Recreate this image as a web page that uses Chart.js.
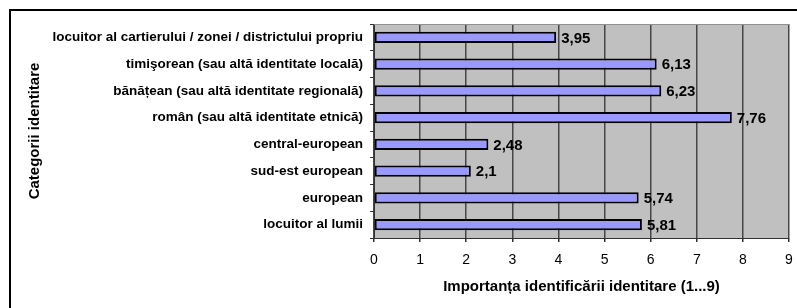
<!DOCTYPE html>
<html>
<head>
<meta charset="utf-8">
<title>Importanța identificării identitare</title>
<script src="https://cdn.jsdelivr.net/npm/chart.js@4"></script>
<style>
    html, body { margin: 0; padding: 0; background: #ffffff; }
    canvas { display: block; }
</style>
</head>
<body>
<canvas id="identityChart" width="797" height="308"></canvas>
<script>
// Data (START) --------------------------------------------------
// Categories, top to bottom as in the picture
let categories = [
    "locuitor al cartierului / zonei / districtului propriu",
    "timişorean (sau altă identitate locală)",
    "bănățean (sau altă identitate regională)",
    "român (sau altă identitate etnică)",
    "central-european",
    "sud-est european",
    "european",
    "locuitor al lumii"
];

// Mean importance (1...9)
let values = [3.95, 6.13, 6.23, 7.76, 2.48, 2.1, 5.74, 5.81];

// Axis titles
let xTitle = "Importanța identificării identitare (1...9)";
let yTitle = "Categorii identitare";

let fontName = "'Liberation Sans', Arial, sans-serif";

// Plugins (START) --------------------------------------------------
// Grey plot area, filled before the scales draw their grid
let plotBackground = {
    id: "plotBackground",
    beforeDraw(chart) {
        let ctx = chart.ctx;
        let a = chart.chartArea;
        ctx.save();
        ctx.fillStyle = "#c0c0c0";
        ctx.fillRect(a.left, a.top, a.right - a.left, a.bottom - a.top);
        ctx.restore();
    }
};

// Grey frame on top of the plot area and the black outer border of the chart
let chartFrame = {
    id: "chartFrame",
    afterDraw(chart) {
        let ctx = chart.ctx;
        let a = chart.chartArea;
        ctx.save();
        ctx.strokeStyle = "#909090";
        ctx.lineWidth = 1;
        ctx.beginPath();
        ctx.moveTo(a.left, a.top + 0.5);
        ctx.lineTo(a.right, a.top + 0.5);
        ctx.stroke();
        ctx.strokeStyle = "#000000";
        ctx.lineWidth = 2;
        ctx.strokeRect(10, 10, chart.width, chart.height);
        ctx.restore();
    }
};

// Value labels next to the end of each bar, with a decimal comma
let valueLabels = {
    id: "valueLabels",
    afterDatasetsDraw(chart) {
        let ctx = chart.ctx;
        let meta = chart.getDatasetMeta(0);
        ctx.save();
        ctx.font = "bold 15px " + fontName;
        ctx.fillStyle = "#000000";
        ctx.textAlign = "left";
        ctx.textBaseline = "middle";
        meta.data.forEach(function (bar, i) {
            let text = String(values[i]).replace(".", ",");
            ctx.fillText(text, bar.x + 5, bar.y + 1);
        });
        ctx.restore();
    }
};

// Chart (START) --------------------------------------------------
let xScale = {
    type: "linear",
    min: 0,
    max: 9,
    ticks: {
        stepSize: 1,
        color: "#000000",
        padding: 10,
        font: { family: fontName, size: 14 }
    },
    grid: {
        display: true,
        drawOnChartArea: true,
        color: "rgba(70,70,70,1)",
        lineWidth: 1.5,
        tickLength: 4,
        tickColor: "rgba(50,50,50,1)"
    },
    border: { display: true, color: "rgba(50,50,50,1)", width: 1 },
    title: {
        display: true,
        text: xTitle,
        color: "#000000",
        padding: { top: 6, bottom: 12 },
        font: { family: fontName, size: 15, weight: "bold" }
    },
    afterFit(scale) {
        scale.height = 70;
        // only half of the "9" label needs room on the right
        scale.paddingRight = 4;
    }
};

let yScale = {
    ticks: {
        color: "#000000",
        padding: 7,
        font: { family: fontName, size: 13.5, weight: "bold" }
    },
    grid: {
        drawOnChartArea: false,
        color: "rgba(50,50,50,1)",
        tickLength: 4
    },
    border: { display: true, color: "rgba(50,50,50,1)", width: 1 },
    title: {
        display: true,
        text: yTitle,
        color: "#000000",
        padding: { top: 14, bottom: 0 },
        font: { family: fontName, size: 15, weight: "bold" }
    },
    afterFit(scale) {
        scale.width = 362;
    }
};

let ctxChart = document.getElementById("identityChart").getContext("2d");

let identityChart = new Chart(ctxChart, {
    type: "bar",
    data: {
        labels: categories,
        datasets: [{
            data: values,
            backgroundColor: "#9999ff",
            borderColor: "#000000",
            borderWidth: 2,
            borderSkipped: false,
            categoryPercentage: 1,
            barPercentage: 0.42
        }]
    },
    options: {
        indexAxis: "y",
        responsive: false,
        animation: false,
        devicePixelRatio: 1,
        layout: {
            padding: { left: 12, top: 24, right: 8, bottom: 0 }
        },
        plugins: {
            legend: { display: false },
            tooltip: { enabled: false }
        },
        scales: { x: xScale, y: yScale }
    },
    plugins: [plotBackground, valueLabels, chartFrame]
});
</script>
</body>
</html>
